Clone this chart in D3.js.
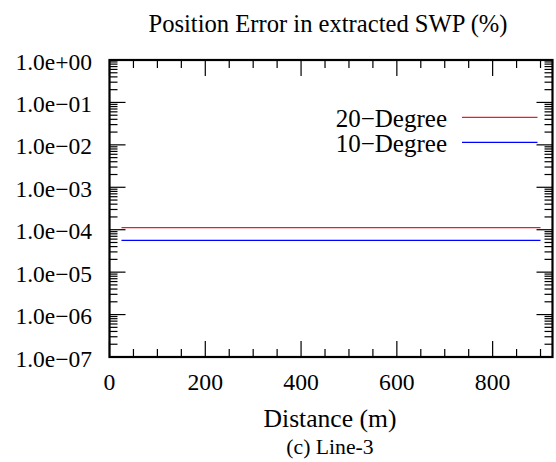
<!DOCTYPE html>
<html>
<head>
<meta charset="utf-8">
<script src="https://cdn.jsdelivr.net/npm/d3@7"></script>
</head>
<body style="margin:0">
<script>
// data
var distance = [25, 900];
var err20 = [1.12e-4, 1.12e-4];
var err10 = [5.63e-5, 5.63e-5];
var seriesNames = ["20\u2212Degree", "10\u2212Degree"];
var seriesColors = ["#ee1c25", "#0000ff"];
var xTicks = [0, 200, 400, 600, 800];
var yTicks = [1e0, 1e-1, 1e-2, 1e-3, 1e-4, 1e-5, 1e-6, 1e-7];

var FONT = "'Liberation Serif', monospace";

var W = 556, H = 462;
var margin = {top: 60, right: 3.5, bottom: 105, left: 109.5};
var width = W - margin.left - margin.right,
    height = H - margin.top - margin.bottom;

var svg = d3.select("body").append("svg")
    .attr("width", W)
    .attr("height", H);

var g = svg.append("g")
    .attr("transform", "translate(" + margin.left + "," + margin.top + ")");

var x = d3.scaleLinear().domain([0, 925]).range([0, width]);
var y = d3.scaleLog().domain([1e-7, 1]).range([height, 0]);

// minor ticks
var xMinor = d3.range(50, 925, 50).filter(function(d) { return d % 200 != 0; });
var yMinor = [];
for (var e = -7; e < 0; e++) {
  for (var m = 2; m <= 9; m++) yMinor.push(m * Math.pow(10, e));
}

var ticks = g.append("g").attr("stroke", "#000").attr("stroke-width", 1.2);

// x ticks bottom and top (inward)
xTicks.concat(xMinor).forEach(function(d) {
  var len = xTicks.indexOf(d) >= 0 ? 16 : 8;
  ticks.append("line").attr("x1", x(d)).attr("x2", x(d)).attr("y1", height).attr("y2", height - len);
  ticks.append("line").attr("x1", x(d)).attr("x2", x(d)).attr("y1", 0).attr("y2", len);
});
// y ticks left and right (inward)
yTicks.concat(yMinor).forEach(function(d) {
  var len = yTicks.indexOf(d) >= 0 ? 16 : 8;
  ticks.append("line").attr("y1", y(d)).attr("y2", y(d)).attr("x1", 0).attr("x2", len);
  ticks.append("line").attr("y1", y(d)).attr("y2", y(d)).attr("x1", width).attr("x2", width - len);
});

// frame
g.append("rect")
  .attr("width", width).attr("height", height)
  .attr("fill", "none").attr("stroke", "#000").attr("stroke-width", 2.2);

// tick labels
g.selectAll(".xlab").data(xTicks).enter().append("text")
  .attr("x", function(d) { return x(d); })
  .attr("y", height + 33)
  .attr("text-anchor", "middle")
  .attr("font-family", FONT)
  .attr("font-size", 23.7)
  .text(function(d) { return d; });

var yFmt = function(d) {
  var ex = Math.round(Math.log10(d));
  var s = ex < 0 ? "\u2212" : "+";
  var a = Math.abs(ex);
  return "1.0e" + s + (a < 10 ? "0" : "") + a;
};
g.selectAll(".ylab").data(yTicks).enter().append("text")
  .attr("x", -17.5)
  .attr("y", function(d) { return y(d); })
  .attr("dy", "0.41em")
  .attr("text-anchor", "end")
  .attr("font-family", FONT)
  .attr("font-size", 23.5)
  .text(yFmt);

// lines
var line = d3.line()
  .x(function(d) { return x(d[0]); })
  .y(function(d) { return y(d[1]); });

[err20, err10].forEach(function(vals, i) {
  g.append("path")
    .datum(distance.map(function(dd, j) { return [dd, vals[j]]; }))
    .attr("fill", "none")
    .attr("stroke", seriesColors[i])
    .attr("stroke-width", 1.3)
    .attr("d", line);
});

// legend
seriesNames.forEach(function(name, i) {
  var ly = 57.3 + i * 25;
  g.append("text")
    .attr("x", 337.5)
    .attr("y", ly)
    .attr("dy", "0.375em")
    .attr("text-anchor", "end")
    .attr("font-family", FONT)
    .attr("font-size", 25)
    .text(name);
  g.append("line")
    .attr("x1", 352.5).attr("x2", 428)
    .attr("y1", ly).attr("y2", ly)
    .attr("stroke", seriesColors[i])
    .attr("stroke-width", 1.3);
});

// titles
svg.append("text")
  .attr("x", 328).attr("y", 31.5)
  .attr("text-anchor", "middle")
  .attr("font-family", FONT)
  .attr("font-size", 24.6)
  .text("Position Error in extracted SWP (%)");

svg.append("text")
  .attr("x", 330).attr("y", 426.5)
  .attr("text-anchor", "middle")
  .attr("font-family", FONT)
  .attr("font-size", 25.6)
  .text("Distance (m)");

svg.append("text")
  .attr("x", 330).attr("y", 454)
  .attr("text-anchor", "middle")
  .attr("font-family", FONT)
  .attr("font-size", 21.7)
  .text("(c) Line-3");
</script>
</body>
</html>
